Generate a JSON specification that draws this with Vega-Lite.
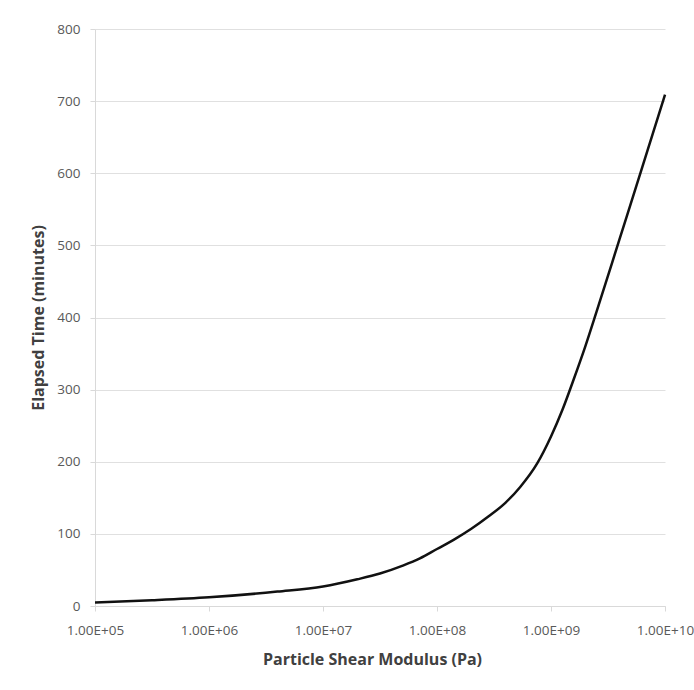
{
  "$schema": "https://vega.github.io/schema/vega-lite/v6.json",
  "width": 570,
  "height": 577,
  "autosize": {"type": "none"},
  "padding": {"left": 95, "top": 29, "right": 29, "bottom": 84},
  "background": "white",
  "config": {
    "view": {"stroke": null},
    "font": "Open Sans",
    "axis": {
      "labelFont": "Open Sans",
      "titleFont": "Open Sans",
      "labelColor": "#595959",
      "titleColor": "#404040",
      "domainColor": "#d9d9d9",
      "tickColor": "#d9d9d9",
      "gridColor": "#e0e0e0",
      "labelFontSize": 13.5,
      "titleFontSize": 16,
      "titleFontWeight": "bold"
    }
  },
  "data": {
    "values": [
      {"modulus": 100000, "time": 5},
      {"modulus": 316000, "time": 8},
      {"modulus": 1000000, "time": 12},
      {"modulus": 3980000, "time": 20},
      {"modulus": 10000000, "time": 27},
      {"modulus": 20000000, "time": 37},
      {"modulus": 31600000, "time": 45},
      {"modulus": 50100000, "time": 56},
      {"modulus": 70800000, "time": 66},
      {"modulus": 100000000, "time": 79},
      {"modulus": 141000000, "time": 92},
      {"modulus": 200000000, "time": 107},
      {"modulus": 282000000, "time": 124},
      {"modulus": 398000000, "time": 143},
      {"modulus": 537000000, "time": 165},
      {"modulus": 759000000, "time": 198},
      {"modulus": 1000000000, "time": 235},
      {"modulus": 1260000000, "time": 272},
      {"modulus": 1580000000, "time": 314},
      {"modulus": 2000000000, "time": 360},
      {"modulus": 2510000000, "time": 408},
      {"modulus": 3980000000, "time": 508},
      {"modulus": 6310000000, "time": 608},
      {"modulus": 10000000000, "time": 709}
    ]
  },
  "mark": {"type": "line", "color": "#111111", "strokeWidth": 2.5, "interpolate": "monotone"},
  "encoding": {
    "x": {
      "field": "modulus",
      "type": "quantitative",
      "scale": {"type": "log", "domain": [100000, 10000000000], "nice": false},
      "axis": {
        "title": "Particle Shear Modulus (Pa)",
        "values": [100000, 1000000, 10000000, 100000000, 1000000000, 10000000000],
        "labelExpr": "'1.00E+' + (round(log(datum.value)/LN10) < 10 ? '0' : '') + round(log(datum.value)/LN10)",
        "grid": false,
        "tickSize": 5,
        "labelPadding": 12,
        "titlePadding": 15,
        "titleX": 277,
        "labelFlush": false,
        "labelOverlap": false
      }
    },
    "y": {
      "field": "time",
      "type": "quantitative",
      "scale": {"domain": [0, 800], "nice": false},
      "axis": {
        "title": "Elapsed Time (minutes)",
        "values": [0, 100, 200, 300, 400, 500, 600, 700, 800],
        "grid": true,
        "tickSize": 5,
        "labelPadding": 10,
        "titlePadding": 10
      }
    }
  }
}
